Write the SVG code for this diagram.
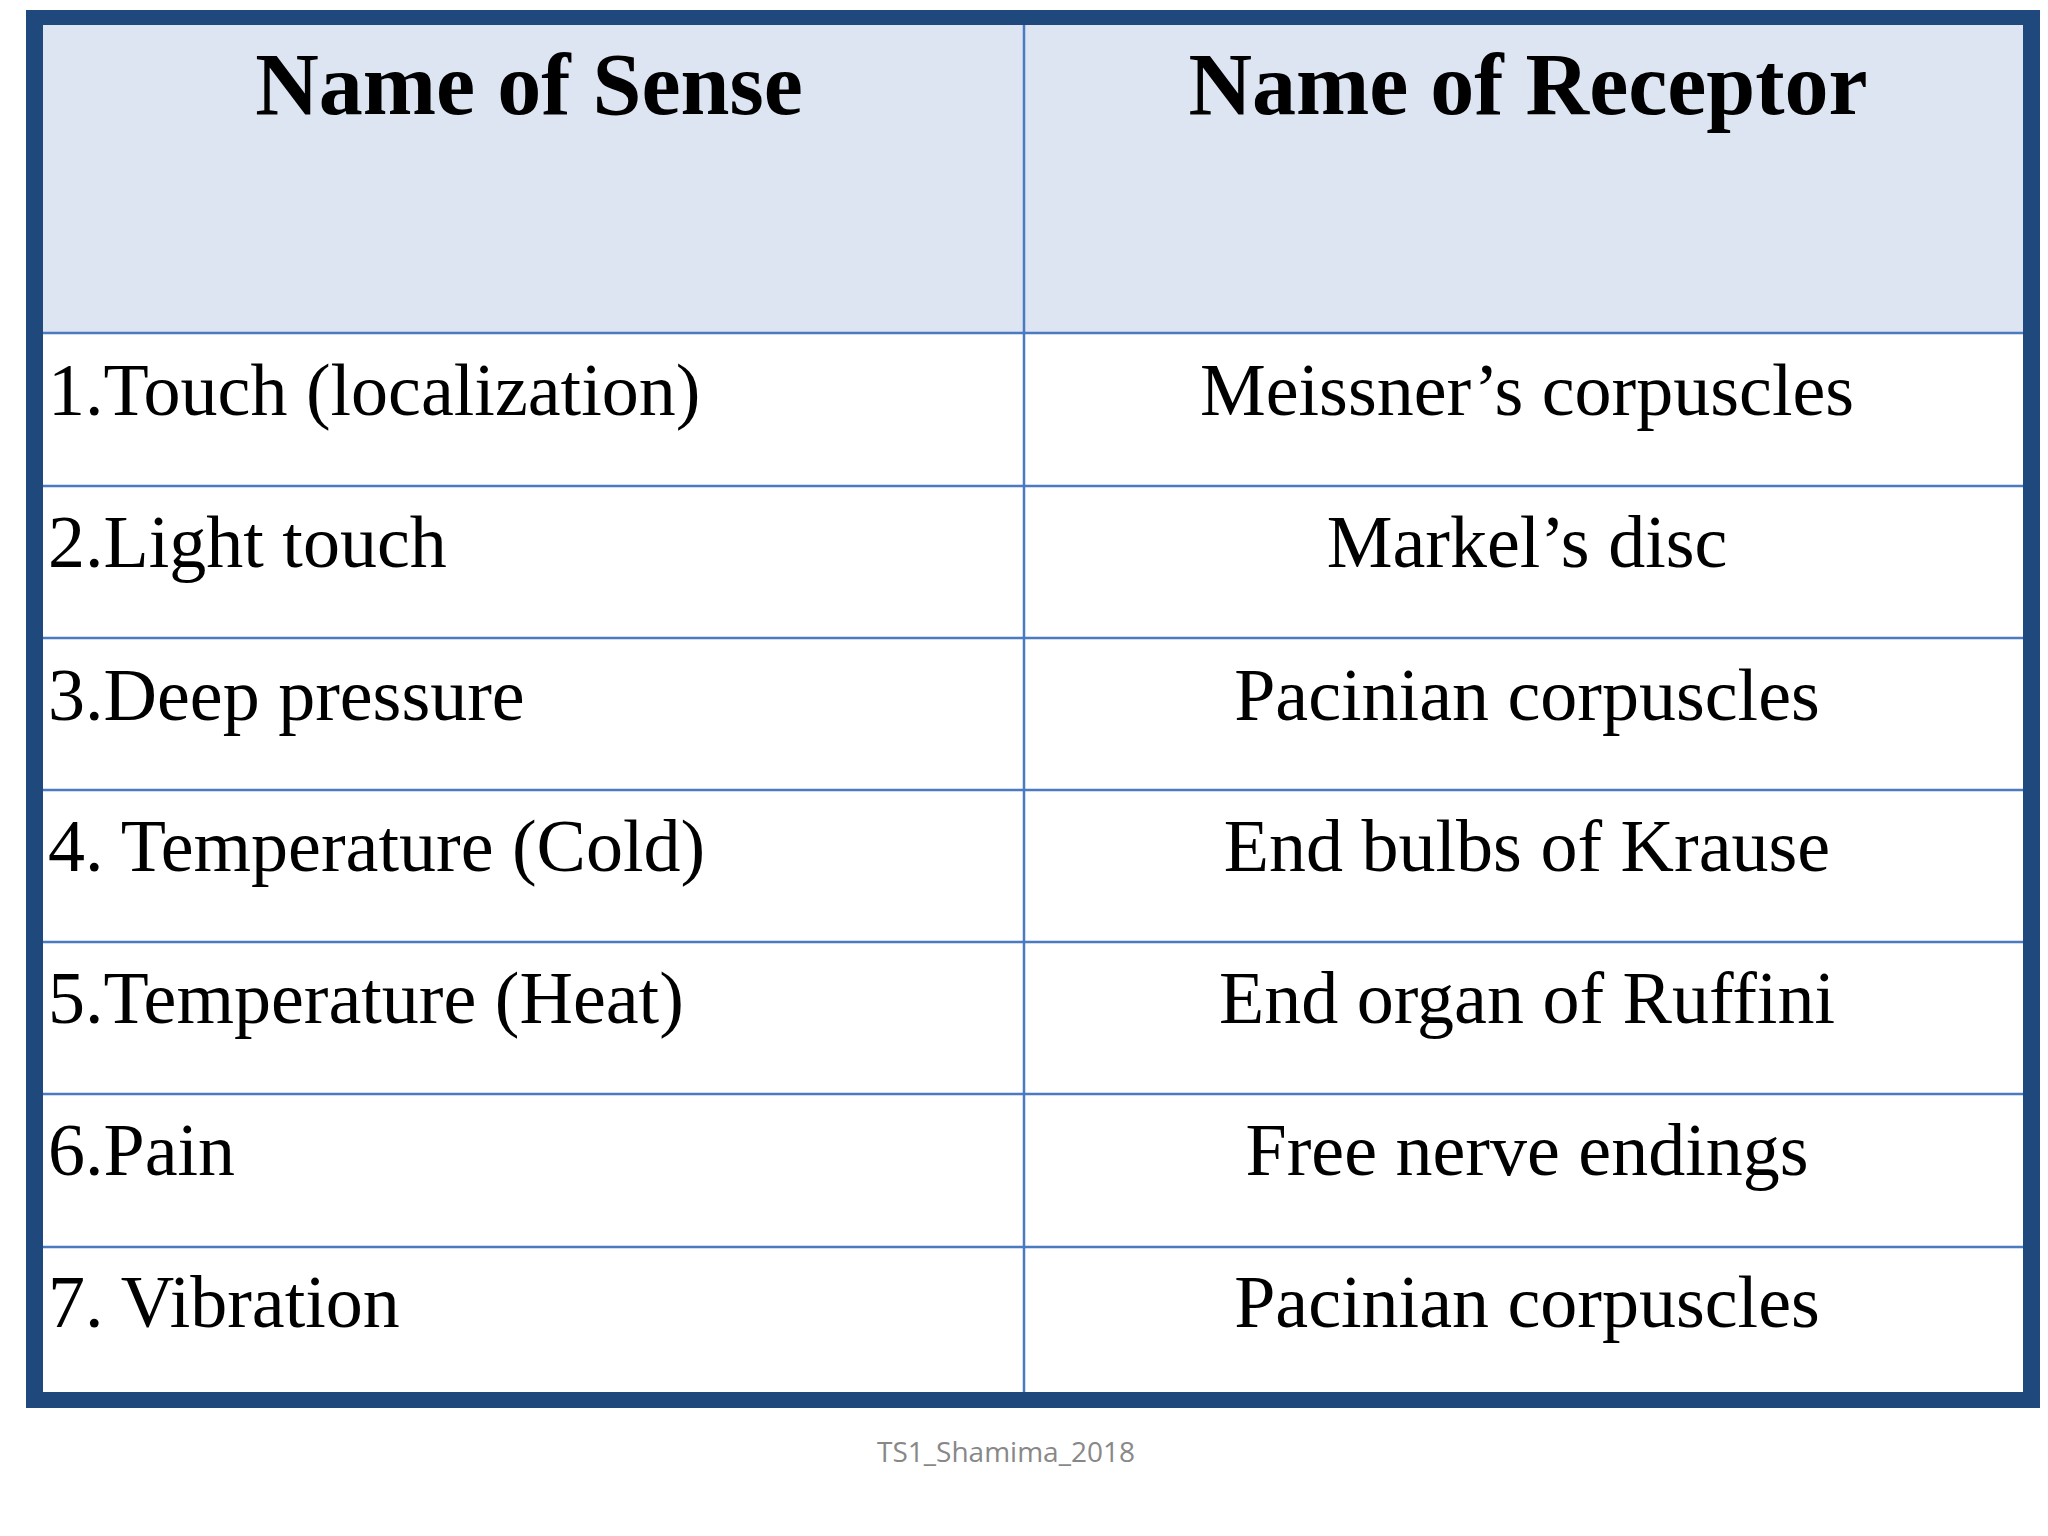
<svg xmlns="http://www.w3.org/2000/svg" width="2048" height="1536" viewBox="0 0 2048 1536">
<style>
.h{font-family:"Liberation Serif",serif;font-weight:bold;font-size:88px;fill:#000;text-anchor:middle}
.t{font-family:"Liberation Serif",serif;font-size:74px;fill:#000}
.c{text-anchor:middle}
.g{stroke:#4a7ac0;stroke-width:2.5}
</style>
<rect width="2048" height="1536" fill="#fff"/>
<rect x="26" y="10" width="2014" height="1398" fill="#1f497d"/>
<rect x="43" y="25" width="1980" height="1367" fill="#fff"/>
<rect x="43" y="25" width="1980" height="308" fill="#dde5f3"/>
<g class="g">
<line x1="1024" y1="25" x2="1024" y2="1392"/>
<line x1="43" y1="333" x2="2023" y2="333"/>
<line x1="43" y1="486" x2="2023" y2="486"/>
<line x1="43" y1="638" x2="2023" y2="638"/>
<line x1="43" y1="790" x2="2023" y2="790"/>
<line x1="43" y1="942" x2="2023" y2="942"/>
<line x1="43" y1="1094" x2="2023" y2="1094"/>
<line x1="43" y1="1247" x2="2023" y2="1247"/>
</g>
<g id="header">
<text class="h" x="529" y="114">Name of Sense</text>
<text class="h" x="1528" y="114">Name of Receptor</text>
</g>
<g id="rows">
<text class="t" x="48" y="415">1.Touch (localization)</text>
<text class="t c" x="1527" y="415">Meissner’s corpuscles</text>
<text class="t" x="48" y="567">2.Light touch</text>
<text class="t c" x="1527" y="567">Markel’s disc</text>
<text class="t" x="48" y="720">3.Deep pressure</text>
<text class="t c" x="1527" y="720">Pacinian corpuscles</text>
<text class="t" x="48" y="871">4. Temperature (Cold)</text>
<text class="t c" x="1527" y="871">End bulbs of Krause</text>
<text class="t" x="48" y="1023">5.Temperature (Heat)</text>
<text class="t c" x="1527" y="1023">End organ of Ruffini</text>
<text class="t" x="48" y="1175">6.Pain</text>
<text class="t c" x="1527" y="1175">Free nerve endings</text>
<text class="t" x="48" y="1327">7. Vibration</text>
<text class="t c" x="1527" y="1327">Pacinian corpuscles</text>
</g>
<text x="1006" y="1462" font-family="'Open Sans',sans-serif" font-size="28" fill="#888" text-anchor="middle">TS1_Shamima_2018</text>
</svg>
